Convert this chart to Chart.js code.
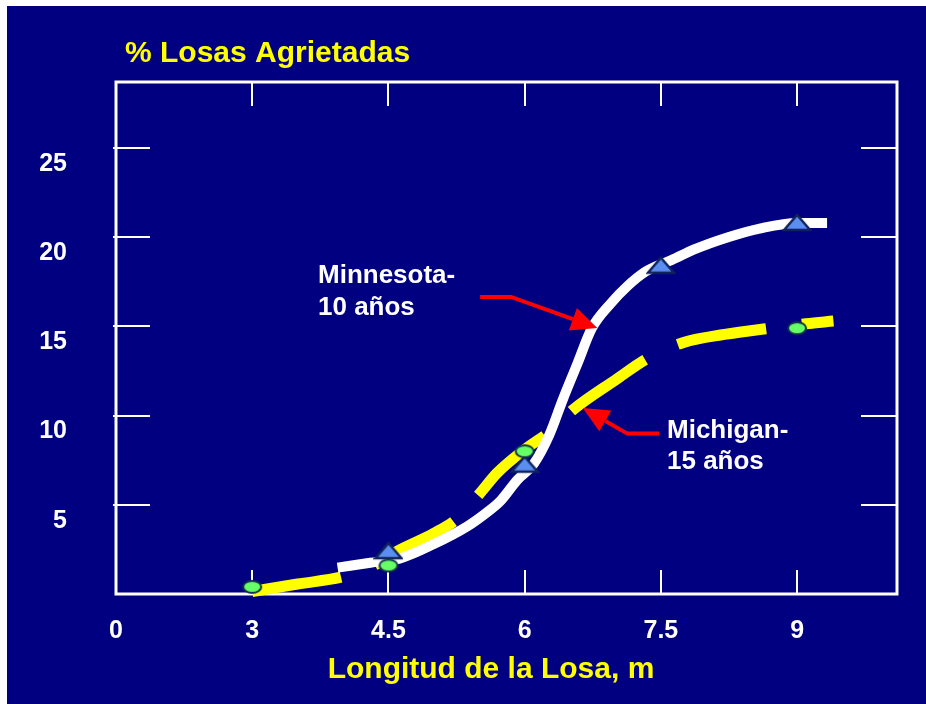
<!DOCTYPE html>
<html>
<head>
<meta charset="utf-8">
<script src="https://cdn.jsdelivr.net/npm/chart.js@4.4.0/dist/chart.umd.min.js"></script>
<style>
    html, body { margin: 0; padding: 0; background: #ffffff; }
    #wrap { width: 926px; height: 704px; }
</style>
</head>
<body>
<div id="wrap"><canvas id="losasChart"></canvas></div>
<script>
// Marker values
var minnesotaX = [4.5, 6, 7.5, 9];
var minnesotaY = [2.4, 7.25, 18.4, 20.8];
var michiganX = [3, 4.5, 6, 9];
var michiganY = [0.4, 1.6, 8.0, 14.9];

// Hand drawn curves
var minnCurveX = [3.94, 4.3, 4.63, 5.0, 5.37, 5.59, 5.73, 5.92, 6.1, 6.27, 6.42, 6.58, 6.74, 6.95, 7.14, 7.31, 7.46, 7.61, 7.86, 8.24, 8.6, 9.0, 9.33];
var minnCurveY = [1.48, 1.75, 2.0, 2.8, 3.8, 4.6, 5.2, 6.4, 7.3, 8.9, 10.9, 12.9, 14.9, 16.3, 17.3, 18.0, 18.4, 18.7, 19.3, 20.0, 20.5, 20.8, 20.8];
var michCurveX = [3.0, 3.5, 4.0, 4.3, 4.6, 5.0, 5.25, 5.5, 5.7, 6.0, 6.25, 6.55, 7.0, 7.35, 7.75, 8.2, 8.7, 9.1, 9.4];
var michCurveY = [0.14, 0.56, 0.97, 1.5, 2.4, 3.4, 4.2, 5.6, 6.8, 8.1, 9.0, 10.4, 12.0, 13.2, 14.1, 14.55, 14.9, 15.15, 15.3];

// Axis ticks (1.5 is the origin corner, printed as "0")
var xTicks = [1.5, 3, 4.5, 6, 7.5, 9];
var xTickLabels = ['0', '3', '4.5', '6', '7.5', '9'];
var yTicks = [5, 10, 15, 20, 25];

var FONT = "'Liberation Sans', Arial, sans-serif";

function toPoints(xs, ys) {
    return xs.map(function (x, i) { return { x: x, y: ys[i] }; });
}

// marker images
function makeTriangle() {
    var cv = document.createElement('canvas');
    cv.width = 30; cv.height = 20;
    var g = cv.getContext('2d');
    g.beginPath();
    g.moveTo(15, 2); g.lineTo(28, 17); g.lineTo(2, 17); g.closePath();
    g.fillStyle = '#5b8ef2'; g.fill();
    g.lineWidth = 2.5; g.strokeStyle = '#10245a'; g.stroke();
    return cv;
}
function makeEllipse() {
    var cv = document.createElement('canvas');
    cv.width = 22; cv.height = 16;
    var g = cv.getContext('2d');
    g.beginPath();
    g.ellipse(11, 8, 9, 6, 0, 0, Math.PI * 2);
    g.fillStyle = '#66ff66'; g.fill();
    g.lineWidth = 2; g.strokeStyle = '#12304a'; g.stroke();
    return cv;
}

function arrow(c, xs, ys, pts) {
    var p = pts.map(function (q) { return [xs.getPixelForValue(q[0]), ys.getPixelForValue(q[1])]; });
    var tip = p[p.length - 1], prev = p[p.length - 2];
    var ang = Math.atan2(tip[1] - prev[1], tip[0] - prev[0]);
    var len = 26, hw = 12;
    var bx = tip[0] - len * Math.cos(ang), by = tip[1] - len * Math.sin(ang);
    c.strokeStyle = '#ff0000';
    c.fillStyle = '#ff0000';
    c.lineWidth = 4;
    c.beginPath();
    c.moveTo(p[0][0], p[0][1]);
    for (var i = 1; i < p.length - 1; i++) c.lineTo(p[i][0], p[i][1]);
    c.lineTo(bx, by);
    c.stroke();
    c.beginPath();
    c.moveTo(tip[0], tip[1]);
    c.lineTo(bx + hw * Math.sin(ang), by - hw * Math.cos(ang));
    c.lineTo(bx - hw * Math.sin(ang), by + hw * Math.cos(ang));
    c.closePath();
    c.fill();
}

var slidePlugin = {
    id: 'slide',
    beforeDraw: function (chart) {
        var c = chart.ctx;
        c.save();
        c.fillStyle = '#ffffff';
        c.fillRect(0, 0, chart.width, chart.height);
        c.fillStyle = '#000080';
        c.fillRect(7, 6, chart.width - 7, chart.height - 6);
        c.restore();
    },
    beforeDatasetsDraw: function (chart) {
        var a = chart.chartArea, c = chart.ctx;
        var xs = chart.scales.x, ys = chart.scales.y;
        c.save();
        c.strokeStyle = '#ffffff';
        c.lineWidth = 2;
        c.beginPath();
        xs.ticks.forEach(function (t) {
            if (t.value <= xs.min) return;
            var px = Math.round(xs.getPixelForValue(t.value));
            c.moveTo(px, a.top); c.lineTo(px, a.top + 24);
            c.moveTo(px, a.bottom - 24); c.lineTo(px, a.bottom);
        });
        ys.ticks.forEach(function (t) {
            var py = Math.round(ys.getPixelForValue(t.value));
            c.moveTo(a.left - 3, py); c.lineTo(a.left + 34, py);
            c.moveTo(a.right - 36, py); c.lineTo(a.right, py);
        });
        c.stroke();
        c.lineWidth = 3;
        c.strokeRect(a.left, a.top, a.right - a.left, a.bottom - a.top);
        c.restore();
    },
    afterDatasetsDraw: function (chart) {
        var c = chart.ctx, xs = chart.scales.x, ys = chart.scales.y;
        c.save();
        arrow(c, xs, ys, [[5.51, 16.65], [5.85, 16.65], [6.80, 14.91]]);
        arrow(c, xs, ys, [[7.48, 8.99], [7.13, 8.99], [6.64, 10.43]]);

        c.textAlign = 'left';
        c.textBaseline = 'alphabetic';
        c.fillStyle = '#ffffff';
        c.font = 'bold 26px ' + FONT;
        c.fillText('Minnesota-', 318, 283);
        c.fillText('10 años', 318, 315);
        c.fillText('Michigan-', 667, 438);
        c.fillText('15 años', 667, 469);

        c.fillStyle = '#ffff00';
        c.font = 'bold 30px ' + FONT;
        c.fillText('% Losas Agrietadas', 125, 62);
        c.textAlign = 'center';
        c.fillText('Longitud de la Losa, m', 491, 678);
        c.restore();
    }
};

var ctx = document.getElementById('losasChart').getContext('2d');
var losasChart = new Chart(ctx, {
    type: 'scatter',
    data: {
        datasets: [
            {
                label: 'Michigan',
                data: toPoints(michiganX, michiganY),
                pointStyle: makeEllipse(),
                pointRadius: 8,
                showLine: false,
                clip: false,
                order: 0
            },
            {
                label: 'Minnesota',
                data: toPoints(minnesotaX, minnesotaY),
                pointStyle: makeTriangle(),
                pointRadius: 8,
                showLine: false,
                clip: false,
                order: 1
            },
            {
                label: 'Minnesota curve',
                data: toPoints(minnCurveX, minnCurveY),
                showLine: true,
                borderColor: '#ffffff',
                borderWidth: 10,
                pointRadius: 0,
                cubicInterpolationMode: 'monotone',
                borderCapStyle: 'butt',
                borderJoinStyle: 'round',
                clip: false,
                order: 2
            },
            {
                label: 'Michigan curve',
                data: toPoints(michCurveX, michCurveY),
                showLine: true,
                borderColor: '#ffff00',
                borderWidth: 11,
                borderDash: [90, 36],
                pointRadius: 0,
                cubicInterpolationMode: 'monotone',
                borderCapStyle: 'butt',
                clip: false,
                order: 3
            }
        ]
    },
    options: {
        responsive: true,
        maintainAspectRatio: false,
        animation: false,
        layout: { padding: { top: 82, right: 29, left: 0, bottom: 0 } },
        plugins: {
            legend: { display: false },
            tooltip: { enabled: false }
        },
        scales: {
            x: {
                type: 'linear',
                min: 1.5,
                max: 10.1,
                grid: { display: false, drawTicks: false },
                border: { display: false },
                afterBuildTicks: function (s) { s.ticks = xTicks.map(function (v) { return { value: v }; }); },
                afterFit: function (s) { s.height = 110; },
                ticks: {
                    color: '#ffffff',
                    font: { family: FONT, size: 25, weight: 'bold' },
                    padding: 22,
                    maxRotation: 0,
                    autoSkip: false,
                    callback: function (v) { return xTickLabels[xTicks.indexOf(v)]; }
                }
            },
            y: {
                min: 0,
                max: 28.7,
                grid: { display: false, drawTicks: false },
                border: { display: false },
                afterBuildTicks: function (s) { s.ticks = yTicks.map(function (v) { return { value: v }; }); },
                afterFit: function (s) { s.width = 116; },
                ticks: {
                    color: '#ffffff',
                    font: { family: FONT, size: 25, weight: 'bold' },
                    padding: 49,
                    labelOffset: 16,
                    autoSkip: false
                }
            }
        }
    },
    plugins: [slidePlugin]
});
</script>
</body>
</html>
